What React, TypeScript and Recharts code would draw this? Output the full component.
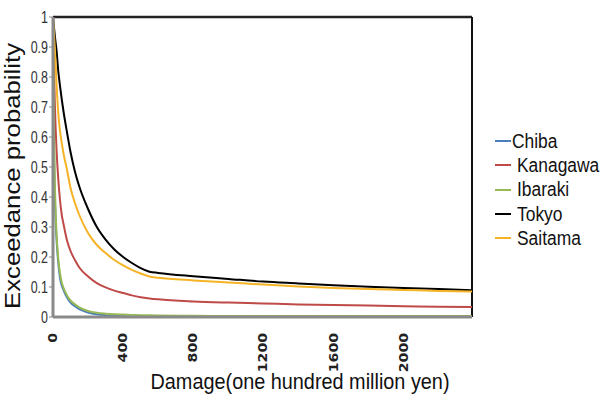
import React from "react";
import { LineChart, Line, XAxis, YAxis, ReferenceLine, Legend, Label } from "recharts";

const X = [0, 5, 10, 15, 20, 30, 40, 50, 60, 80, 100, 125, 150, 200, 250, 300, 350, 400, 450, 500, 550, 600, 800, 1000, 1200, 1400, 1600, 1800, 2000, 2200, 2390];
const chiba = [1, 0.6, 0.42, 0.32, 0.26, 0.18, 0.13, 0.105, 0.09, 0.065, 0.048, 0.036, 0.026, 0.015, 0.009, 0.006, 0.004, 0.003, 0.0025, 0.002, 0.0017, 0.0015, 0.0012, 0.001, 0.001, 0.001, 0.001, 0.001, 0.001, 0.001, 0.001];
const kanagawa = [1, 0.85, 0.72, 0.63, 0.56, 0.46, 0.39, 0.34, 0.31, 0.255, 0.22, 0.19, 0.165, 0.135, 0.113, 0.099, 0.088, 0.08, 0.072, 0.066, 0.062, 0.059, 0.052, 0.048, 0.045, 0.042, 0.04, 0.038, 0.036, 0.034, 0.033];
const ibaraki = [1, 0.65, 0.46, 0.35, 0.28, 0.195, 0.145, 0.115, 0.097, 0.072, 0.055, 0.042, 0.032, 0.02, 0.014, 0.011, 0.009, 0.008, 0.007, 0.006, 0.0055, 0.005, 0.004, 0.0035, 0.0033, 0.0032, 0.0031, 0.003, 0.003, 0.003, 0.003];
const tokyo = [1, 0.97, 0.94, 0.915, 0.89, 0.82, 0.77, 0.725, 0.685, 0.615, 0.55, 0.485, 0.435, 0.36, 0.3, 0.258, 0.225, 0.2, 0.18, 0.163, 0.151, 0.147, 0.136, 0.127, 0.118, 0.112, 0.106, 0.101, 0.097, 0.093, 0.089];
const saitama = [1, 0.95, 0.9, 0.84, 0.78, 0.68, 0.62, 0.58, 0.545, 0.49, 0.43, 0.38, 0.34, 0.28, 0.24, 0.213, 0.19, 0.172, 0.157, 0.145, 0.135, 0.131, 0.122, 0.115, 0.108, 0.102, 0.097, 0.093, 0.09, 0.087, 0.085];

const xTicks = [0, 400, 800, 1200, 1600, 2000];
const yTicks = [0, 0.1, 0.2, 0.3, 0.4, 0.5, 0.6, 0.7, 0.8, 0.9, 1];
const xMax = 2390;

const series = [
  { key: "Chiba", values: chiba, color: "#4a7ebb" },
  { key: "Kanagawa", values: kanagawa, color: "#be4b48" },
  { key: "Ibaraki", values: ibaraki, color: "#98b954" },
  { key: "Tokyo", values: tokyo, color: "#000000" },
  { key: "Saitama", values: saitama, color: "#f5b325" },
];

const data = X.map((x, i) => {
  const row: any = { x };
  series.forEach((s) => (row[s.key] = s.values[i]));
  return row;
});

const FONT = "'Liberation Sans', Arial, sans-serif";

const XTick = (props: any) => {
  const { x, y, payload } = props;
  const s = String(payload.value);
  return (
    <text
      transform={`translate(${x},${y + 8}) rotate(-90)`}
      textAnchor="end"
      dominantBaseline="central"
      fontSize={11.5}
      fontWeight="bold"
      fontFamily="'DejaVu Sans', sans-serif"
      fill="#222"
      textLength={s.length * 9.8}
      lengthAdjust="spacingAndGlyphs"
    >
      {s}
    </text>
  );
};

const YTick = (props: any) => {
  const { x, y, payload } = props;
  return (
    <text
      transform={`translate(${x},${y}) scale(0.78,1)`}
      textAnchor="end"
      dominantBaseline="central"
      fontSize={16}
      fontFamily={FONT}
      fill="#333"
    >
      {String(payload.value)}
    </text>
  );
};

const renderLegend = () => (
  <div style={{ fontFamily: FONT, fontSize: 20, color: "#111" }}>
    {series.map((s) => (
      <div key={s.key} style={{ display: "flex", alignItems: "center", height: 24.3 }}>
        <span
          style={{
            display: "inline-block",
            flexShrink: 0,
            width: 16,
            height: 2,
            background: s.color,
            marginRight: s.key === "Chiba" ? 1 : 6,
          }}
        />
        <span
          style={{
            display: "inline-block",
            flexShrink: 0,
            transform: "scaleX(0.87)",
            transformOrigin: "left center",
            whiteSpace: "nowrap",
          }}
        >
          {s.key}
        </span>
      </div>
    ))}
  </div>
);

export default function App() {
  return (
    <div style={{ position: "absolute", left: 0, top: 0 }}>
      <LineChart width={603} height={396} data={data} margin={{ top: 17, right: 131, left: 0, bottom: 0 }}>
        <XAxis
          dataKey="x"
          type="number"
          domain={[0, xMax]}
          ticks={xTicks}
          tick={<XTick />}
          tickLine={false}
          axisLine={{ stroke: "#8a8a8a", strokeWidth: 3 }}
          height={79}
          allowDataOverflow
        >
          <Label
            content={() => (
              <text
                x={300}
                y={389}
                textAnchor="middle"
                fontSize={22}
                fontFamily={FONT}
                fill="#111"
                textLength={299}
                lengthAdjust="spacingAndGlyphs"
              >
                Damage(one hundred million yen)
              </text>
            )}
          />
        </XAxis>
        <YAxis
          type="number"
          domain={[0, 1]}
          ticks={yTicks}
          width={53}
          tick={<YTick />}
          tickLine={{ stroke: "#8a8a8a" }}
          tickSize={4}
          tickMargin={1}
          axisLine={{ stroke: "#8a8a8a", strokeWidth: 3 }}
          allowDataOverflow
        >
          <Label
            content={() => (
              <text
                transform="translate(19.5,176) rotate(-90)"
                textAnchor="middle"
                fontSize={22}
                fontFamily={FONT}
                fill="#111"
                textLength={266}
                lengthAdjust="spacingAndGlyphs"
              >
                Exceedance probability
              </text>
            )}
          />
        </YAxis>
        <ReferenceLine y={1} stroke="#222" strokeWidth={2.5} />
        <ReferenceLine x={xMax} stroke="#111" strokeWidth={2} />
        {series.map((s) => (
          <Line
            key={s.key}
            dataKey={s.key}
            type="monotone"
            stroke={s.color}
            strokeWidth={2}
            dot={false}
            isAnimationActive={false}
          />
        ))}
        <Legend
          layout="horizontal"
          verticalAlign="middle"
          align="center"
          content={renderLegend}
          wrapperStyle={{ left: 495, top: 129, width: 130 }}
        />
      </LineChart>
    </div>
  );
}
